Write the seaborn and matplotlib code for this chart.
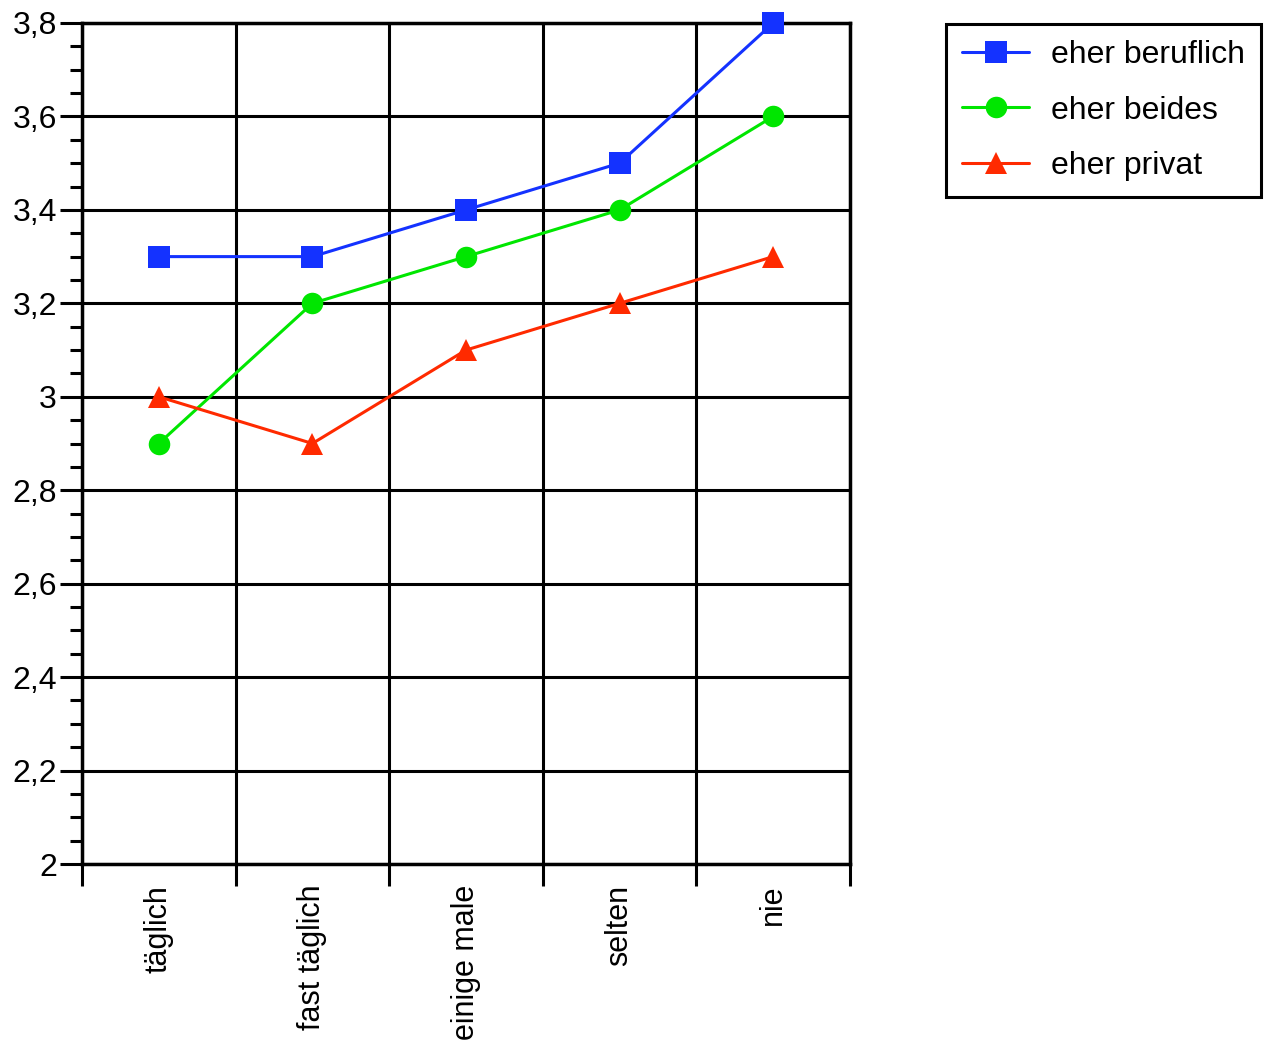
import numpy as np
import pandas as pd
import matplotlib
matplotlib.use("Agg")
import matplotlib.pyplot as plt
import seaborn as sns
from matplotlib.ticker import MultipleLocator, FixedLocator, FuncFormatter

# --------------------------------------------------------------------------- #
#                                  DATEN                                       #
# --------------------------------------------------------------------------- #
CATEGORIES = ["täglich", "fast täglich", "einige male", "selten", "nie"]
SERIES = ["eher beruflich", "eher beides", "eher privat"]
BERUFLICH = [3.3, 3.3, 3.4, 3.5, 3.8]
BEIDES = [2.9, 3.2, 3.3, 3.4, 3.6]
PRIVAT = [3.0, 2.9, 3.1, 3.2, 3.3]

COLORS = {"eher beruflich": "#1432ff", "eher beides": "#00e600", "eher privat": "#ff2a00"}
MARKERS = {"eher beruflich": "s", "eher beides": "o", "eher privat": "^"}

df = pd.DataFrame({
    "pos": list(range(len(CATEGORIES))) * 3,
    "wert": BERUFLICH + BEIDES + PRIVAT,
    "serie": [s for s in SERIES for _ in CATEGORIES],
})

sns.set_style("white")
plt.rcParams["font.family"] = ["Liberation Sans", "DejaVu Sans"]
plt.rcParams["text.color"] = "black"
plt.rcParams["xtick.color"] = "black"
plt.rcParams["ytick.color"] = "black"
FS = 23

fig = plt.figure(figsize=(12.68, 10.5), dpi=100)
ax = fig.add_axes([82 / 1268, 1 - 864 / 1050, (850 - 82) / 1268, (864 - 23) / 1050])

sns.lineplot(
    data=df, x="pos", y="wert", hue="serie", style="serie",
    palette=COLORS, markers=MARKERS, dashes=False,
    linewidth=2.2, markersize=15.5, markeredgewidth=0, ax=ax, clip_on=False, zorder=5,
)

ax.set_xlim(-0.5, len(CATEGORIES) - 0.5)
ax.set_ylim(2.0, 3.8)

# Gitter an den Kategoriegrenzen, Beschriftung in der Mitte
ax.xaxis.set_major_locator(FixedLocator(np.arange(-0.5, len(CATEGORIES), 1.0)))
ax.xaxis.set_minor_locator(FixedLocator(np.arange(len(CATEGORIES))))
ax.set_xticklabels([], minor=False)
ax.set_xticklabels(CATEGORIES, minor=True, rotation=90, va="top", ha="center", fontsize=22)
ax.tick_params(axis="x", which="major", length=16, width=2.2, color="black", direction="out", bottom=True)
ax.tick_params(axis="x", which="minor", length=0, pad=15)

ax.yaxis.set_major_locator(MultipleLocator(0.2))
ax.yaxis.set_minor_locator(MultipleLocator(0.05))
ax.yaxis.set_major_formatter(FuncFormatter(lambda v, p: f"{v:.1f}".rstrip("0").rstrip(".").replace(".", ",")))
ax.tick_params(axis="y", which="major", length=16, width=2.2, color="black", labelsize=FS, left=True, pad=2)
ax.tick_params(axis="y", which="minor", length=9, width=2.2, color="black", left=True)

ax.grid(True, which="major", color="black", linewidth=2.2)
ax.set_axisbelow(True)
for side in ["left", "bottom", "top", "right"]:
    ax.spines[side].set_visible(True)
    ax.spines[side].set_color("black")
    ax.spines[side].set_linewidth(2.5)

ax.set_xlabel("")
ax.set_ylabel("")

handles, labels = ax.get_legend_handles_labels()
ax.legend_.remove()
leg = fig.legend(
    handles, labels, loc="upper left", bbox_to_anchor=(946 / 1268, 1 - 24 / 1050),
    fontsize=FS, frameon=True, fancybox=False, edgecolor="black",
    handlelength=2.1, handletextpad=0.7, labelspacing=0.8, borderpad=0.5, borderaxespad=0,
)
leg.get_frame().set_linewidth(2.2)
leg.get_frame().set_alpha(1)

fig.savefig("out.png", dpi=100)
